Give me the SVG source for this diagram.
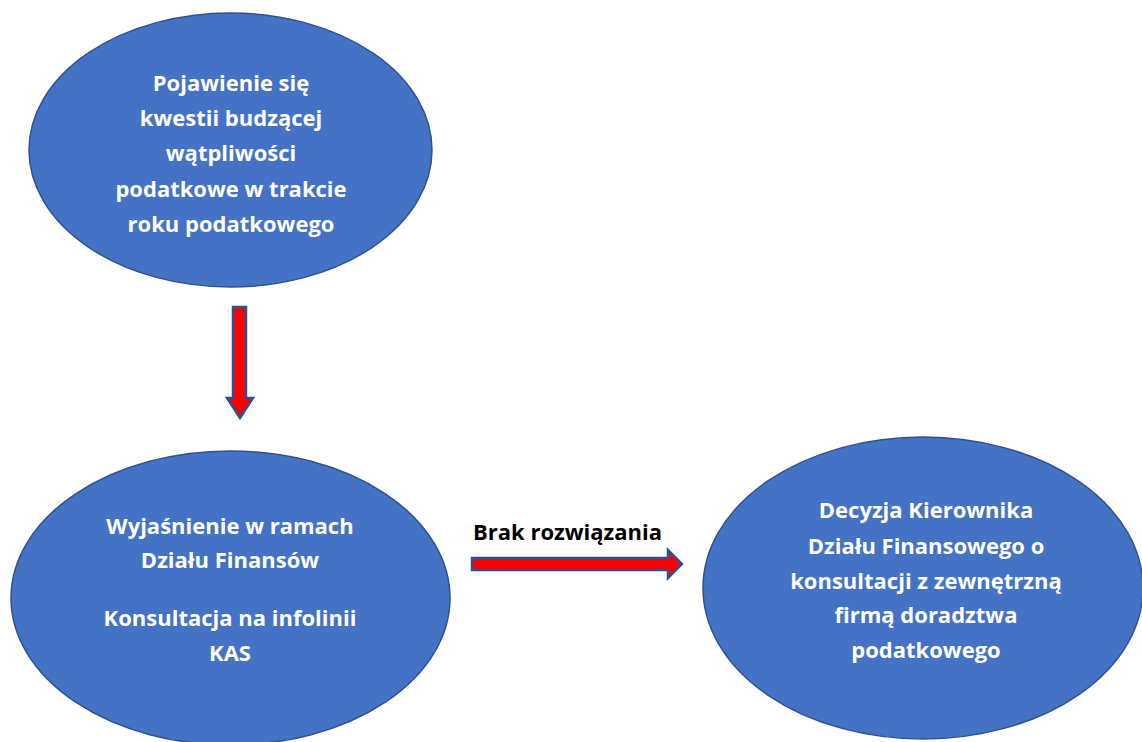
<svg xmlns="http://www.w3.org/2000/svg" width="1142" height="742" viewBox="0 0 1142 742">
<style>
.node{fill:#4472C4;stroke:#2F528F;stroke-width:1.5}
.nt{font-family:"Open Sans","Liberation Sans",sans-serif;font-weight:bold;font-size:22px;fill:#FFFFFF;text-anchor:middle}
.arr{fill:#FF0000;stroke:#2F528F;stroke-width:2.5;stroke-linejoin:miter}
.lbl{font-family:"Open Sans","Liberation Sans",sans-serif;font-weight:bold;font-size:22px;fill:#000000}
</style>
<rect width="1142" height="742" fill="#FFFFFF"/>
<g id="node-start">
<ellipse class="node" cx="230.5" cy="150" rx="201.5" ry="137"/>
<text class="nt" x="231" y="91">Pojawienie się</text>
<text class="nt" x="231" y="126">kwestii budzącej</text>
<text class="nt" x="231" y="161">wątpliwości</text>
<text class="nt" x="231" y="197">podatkowe w trakcie</text>
<text class="nt" x="231" y="232">roku podatkowego</text>
</g>
<g id="node-internal">
<ellipse class="node" cx="230.5" cy="598" rx="219.5" ry="147"/>
<text class="nt" x="230" y="534">Wyjaśnienie w ramach</text>
<text class="nt" x="230" y="568">Działu Finansów</text>
<text class="nt" x="230" y="626">Konsultacja na infolinii</text>
<text class="nt" x="230" y="661">KAS</text>
</g>
<g id="node-decision">
<ellipse class="node" cx="923" cy="588" rx="220" ry="151"/>
<text class="nt" x="926" y="518">Decyzja Kierownika</text>
<text class="nt" x="926" y="554">Działu Finansowego o</text>
<text class="nt" x="926" y="589">konsultacji z zewnętrzną</text>
<text class="nt" x="926" y="623">firmą doradztwa</text>
<text class="nt" x="926" y="658">podatkowego</text>
</g>
<g id="connectors">
<polygon class="arr" points="233,307 246,307 246,398 253,398 240,418 227,398 233,398"/>
<polygon class="arr" points="472,558 668,558 668,550 682,564 668,578 668,570 472,570"/>
<text class="lbl" x="473" y="540">Brak rozwiązania</text>
</g>
</svg>
